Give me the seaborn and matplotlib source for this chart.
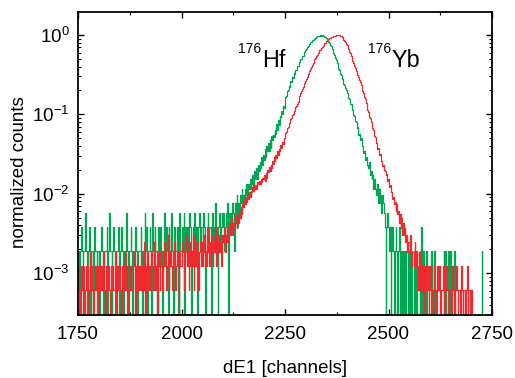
import numpy as np
import pandas as pd
import matplotlib
matplotlib.use("Agg")
import matplotlib.pyplot as plt
import seaborn as sns
from matplotlib.ticker import LogLocator, MultipleLocator, FixedLocator, NullFormatter

# ---------------- data ----------------
channel_start = 1750
channel_step = 2

# 176Hf spectrum, counts per bin (bins of 2 channels, 1750 ... 2750)
hf_counts = [
    1, 1, 0, 1, 2, 1, 0, 1, 1, 3, 1, 0, 1, 1, 2, 0, 1, 1, 1, 0, 2, 1, 1, 0, 1,
    1, 0, 1, 2, 1, 1, 0, 1, 1, 1, 2, 0, 1, 3, 1, 1, 0, 1, 2, 1, 0, 1, 1, 1, 2,
    0, 1, 1, 2, 1, 0, 1, 1, 1, 3, 1, 0, 1, 1, 2, 1, 0, 1, 1, 2, 1, 1, 0, 1, 1,
    1, 2, 1, 0, 1, 1, 3, 1, 2, 0, 1, 1, 2, 1, 0, 3, 1, 1, 2, 1, 1, 0, 2, 1, 1,
    2, 1, 0, 1, 3, 1, 1, 2, 1, 0, 2, 1, 1, 3, 1, 0, 1, 2, 1, 1, 2, 0, 1, 3, 1,
    1, 2, 1, 3, 0, 2, 1, 2, 1, 1, 3, 2, 0, 1, 2, 1, 3, 1, 2, 0, 1, 2, 3, 1, 2,
    2, 1, 3, 2, 0, 1, 2, 3, 1, 2, 2, 0, 3, 1, 2, 1, 4, 2, 1, 0, 2, 3, 1, 2, 3,
    2, 3, 1, 2, 3, 2, 4, 0, 3, 2, 3, 2, 4, 3, 1, 4, 3, 5, 2, 4, 3, 5, 4, 6, 4,
    5, 4, 6, 5, 7, 5, 7, 6, 8, 6, 7, 9, 6, 10, 8, 9, 11, 8, 12, 10, 13, 11, 15, 12, 16,
    14, 19, 15, 21, 18, 23, 18, 25, 20, 28, 25, 29, 27, 33, 30, 39, 33, 44, 38, 50, 49, 57, 53, 66, 63,
    74, 86, 89, 103, 106, 118, 117, 136, 133, 153, 152, 172, 169, 192, 190, 213, 211, 236, 236, 260,
    262, 285, 288, 312, 318,
    338, 348, 371, 379, 402, 409, 428, 430, 449, 451, 467, 470, 487, 489, 504, 503, 516, 511, 522, 514,
    524, 513, 515, 498, 493,
    476, 455, 444, 422, 413, 388, 377, 348, 335, 308, 294, 268, 256, 231, 221, 197, 190, 171, 164, 148,
    141, 128, 123, 111, 106,
    96, 94, 83, 81, 71, 70, 60, 59, 51, 50, 43, 42, 35, 36, 29, 30, 25, 26, 21, 21, 17, 18, 14, 15, 12,
    12, 11, 13, 9, 10, 8, 9, 6, 8, 6, 6, 5, 7, 4, 6, 4, 5, 3, 5, 4, 3, 2, 0, 2, 3,
    2, 1, 2, 0, 1, 2, 1, 0, 1, 2, 1, 0, 1, 2, 0, 1, 0, 1, 0, 1, 0, 1, 0, 0, 1,
    0, 1, 0, 1, 0, 0, 1, 0, 0, 1, 0, 0, 0, 1, 0, 2, 0, 1, 0, 0, 0, 1, 0, 0, 0,
    0, 0, 1, 0, 0, 1, 1, 0, 0, 0, 0, 0, 0, 0, 0, 0, 0, 1, 0, 1, 0, 0, 1, 0, 0,
    1, 0, 0, 0, 0, 1, 0, 0, 0, 0, 0, 0, 0, 0, 0, 0, 0, 0, 0, 0, 0, 0, 0, 0, 0,
    0, 0, 0, 0, 0, 0, 0, 0, 0, 0, 0, 0, 0, 1, 0, 0, 0, 0, 0, 0, 0, 0, 0, 0, 0,
    0,
]

# 176Yb spectrum, counts per bin (bins of 2 channels, 1750 ... 2750)
yb_counts = [
    1, 2, 1, 0, 2, 1, 1, 2, 0, 1, 2, 2, 1, 0, 1, 3, 1, 2, 1, 0, 1, 2, 1, 1, 2,
    0, 1, 2, 1, 2, 1, 3, 1, 0, 2, 1, 1, 2, 1, 0, 2, 1, 2, 1, 1, 3, 0, 1, 2, 1,
    2, 1, 1, 0, 2, 2, 1, 3, 1, 2, 0, 1, 2, 1, 2, 1, 1, 2, 3, 0, 1, 2, 1, 2, 1,
    2, 3, 1, 2, 1, 4, 2, 0, 2, 3, 1, 2, 2, 1, 3, 2, 1, 4, 2, 1, 2, 0, 3, 2, 1,
    3, 2, 1, 2, 4, 2, 3, 1, 2, 5, 1, 2, 3, 2, 1, 3, 2, 4, 1, 2, 3, 2, 0, 3, 2,
    2, 4, 3, 1, 2, 3, 5, 2, 3, 1, 4, 2, 3, 2, 5, 1, 3, 2, 4, 3, 2, 1, 3, 4, 2,
    4, 2, 3, 5, 3, 2, 4, 6, 3, 2, 4, 3, 5, 2, 4, 3, 6, 2, 3, 4, 5, 3, 4, 2, 5,
    5, 4, 6, 3, 5, 6, 4, 5, 7, 5, 6, 8, 5, 7, 6, 7, 9, 6, 8, 7, 10, 8, 11, 9, 12,
    11, 14, 12, 15, 13, 16, 14, 17, 15, 18, 17, 20, 18, 21, 19, 21, 19, 23, 22, 24, 22, 25, 23, 26, 25,
    28, 24, 30, 26, 33, 31, 36, 32, 38, 35, 43, 39, 47, 42, 51, 46, 56, 50, 60, 57, 68, 62, 74, 69, 82,
    86, 95, 97, 110, 113, 127, 129, 143, 147, 161, 165, 181, 187, 206, 210, 224, 237, 265, 280, 303,
    320, 341, 359, 385, 405,
    430, 462, 481, 525, 546, 585, 612, 655, 686, 733, 762, 812, 843, 893, 921, 970, 1001, 1049, 1079, 1126,
    1157, 1207, 1239, 1289, 1322,
    1371, 1396, 1437, 1458, 1493, 1510, 1541, 1556, 1584, 1593, 1614, 1618, 1636, 1633, 1644,
    1636, 1634, 1607, 1589, 1540, 1500, 1440, 1392, 1326, 1277,
    1221, 1146, 1090, 1014, 964, 896, 845, 776, 729, 667, 629, 583, 557, 512, 489, 447, 423, 381, 359, 321,
    302, 271, 257, 228, 214,
    189, 178, 154, 148, 131, 127, 109, 103, 87, 85, 74, 72, 60, 61, 50, 52, 44, 43, 37, 38, 33, 32, 28, 29, 24,
    25, 20, 21, 17, 17, 14, 15, 12, 13, 10, 12, 9, 10, 7, 9, 6, 8, 5, 7, 5, 6, 4, 5, 3, 4,
    4, 3, 5, 2, 3, 3, 2, 4, 2, 3, 2, 1, 3, 2, 1, 2, 1, 2, 0, 1, 2, 1, 1, 2, 0,
    1, 2, 1, 0, 1, 2, 1, 1, 0, 2, 1, 1, 2, 0, 1, 1, 2, 1, 0, 1, 2, 1, 0, 1, 1,
    1, 0, 2, 1, 1, 0, 1, 2, 1, 0, 1, 1, 0, 2, 1, 0, 1, 1, 0, 1, 2, 0, 1, 1, 0,
    1, 0, 0, 0, 0, 0, 0, 0, 0, 0, 0, 0, 0, 0, 0, 0, 0, 0, 0, 0, 0, 0, 0, 0, 0,
    1,
]

series_names = ["Hf", "Yb"]
mass_number = "176"
series_colors = {"Hf": "#00a651", "Yb": "#ee2a2e"}
x_ticks = [1750, 2000, 2250, 2500, 2750]
x_label = "dE1 [channels]"
y_label = "normalized counts"

# ---------------- build table ----------------
hf = np.asarray(hf_counts, float)
yb = np.asarray(yb_counts, float)
df = pd.concat([
    pd.DataFrame({"channel": channel_start + channel_step * np.arange(len(hf_counts)),
                  "norm": hf / hf.max(), "isotope": "Hf"}),
    pd.DataFrame({"channel": channel_start + channel_step * np.arange(len(yb_counts)),
                  "norm": yb / yb.max(), "isotope": "Yb"}),
], ignore_index=True)

# ---------------- style ----------------
sns.set_style("ticks")
plt.rcParams["font.family"] = ["Liberation Sans", "DejaVu Sans"]
plt.rcParams["mathtext.fontset"] = "custom"
plt.rcParams["mathtext.rm"] = "Liberation Sans"
plt.rcParams["mathtext.it"] = "Liberation Sans:italic"
plt.rcParams["mathtext.default"] = "regular"
for key in ["text.color", "axes.labelcolor", "xtick.color", "ytick.color", "axes.edgecolor"]:
    plt.rcParams[key] = "black"

W, H = 515, 378
fig = plt.figure(figsize=(W / 100, H / 100), dpi=100)
ax = fig.add_axes([78 / W, 63 / H, 414 / W, 303 / H])

sns.lineplot(data=df, x="channel", y="norm", hue="isotope", hue_order=series_names,
             palette=series_colors, estimator=None, sort=False, legend=False,
             drawstyle="steps-mid", linewidth=0.9, ax=ax)

ax.set_yscale("log")
ax.set_xlim(1750, 2750)
ax.set_ylim(10 ** -3.53, 10 ** 0.29)

ax.xaxis.set_major_locator(FixedLocator(x_ticks))
ax.xaxis.set_minor_locator(MultipleLocator(125))
ax.yaxis.set_major_locator(LogLocator(base=10, numticks=10))
ax.yaxis.set_minor_locator(LogLocator(base=10, subs=np.arange(2, 10), numticks=20))
ax.yaxis.set_minor_formatter(NullFormatter())

for s in ax.spines.values():
    s.set_linewidth(1.3)
    s.set_color("black")
ax.tick_params(which="both", direction="in", top=True, right=True, color="black",
               labelcolor="black")
ax.tick_params(which="major", length=4, width=1.0, labelsize=13.5, pad=6)
ax.tick_params(which="minor", length=2.2, width=0.8)
ax.tick_params(axis="x", which="major", pad=8)

ax.set_xlabel(x_label, fontsize=13.5, color="black")
ax.set_ylabel(y_label, fontsize=13.5, color="black")
ax.xaxis.set_label_coords(0.5, -0.148)
ax.yaxis.set_label_coords(-0.12, 0.472)

# isotope annotations
ax.text(0.444, 0.818, series_names[0], transform=ax.transAxes, fontsize=16.8,
        ha="left", va="baseline", color="black")
ax.text(0.442, 0.866, mass_number, transform=ax.transAxes, fontsize=10,
        ha="right", va="baseline", color="black")
ax.text(0.758, 0.818, series_names[1], transform=ax.transAxes, fontsize=16.8,
        ha="left", va="baseline", color="black")
ax.text(0.757, 0.866, mass_number, transform=ax.transAxes, fontsize=10,
        ha="right", va="baseline", color="black")

fig.savefig("out.png", dpi=100)
